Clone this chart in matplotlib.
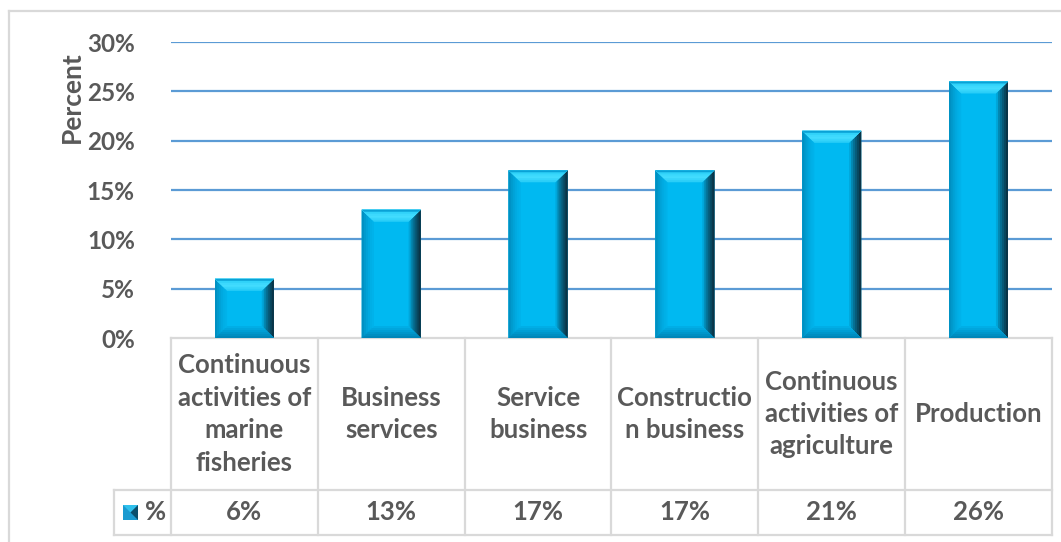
import matplotlib
matplotlib.use("Agg")
import matplotlib.pyplot as plt
from matplotlib.patches import Polygon, Rectangle
from matplotlib.lines import Line2D
from matplotlib.colors import to_rgb
import matplotlib.transforms as mtransforms

categories = [
    "Continuous\nactivities of\nmarine\nfisheries",
    "Business\nservices",
    "Service\nbusiness",
    "Constructio\nn business",
    "Continuous\nactivities of\nagriculture",
    "Production",
]
values = [0.06, 0.13, 0.17, 0.17, 0.21, 0.26]
value_labels = ["6%", "13%", "17%", "17%", "21%", "26%"]
yticks = [0.0, 0.05, 0.10, 0.15, 0.20, 0.25, 0.30]
series_name = "%"

TEXT = "#595959"
GRID = "#5B9BD5"
RULE = "#D9D9D9"
FACE = "#00B9F1"

plt.rcParams["font.family"] = ["Lato", "DejaVu Sans"]


def mix(a, b, t):
    a, b = to_rgb(a), to_rgb(b)
    return tuple(a[k] + (b[k] - a[k]) * t for k in range(3))


W, H = 1061, 542
fig = plt.figure(figsize=(W / 100, H / 100), dpi=100)
# plot area in pixels: x 171..1052, y(0%)=338, y(30%)=42
ax = fig.add_axes([171 / W, (H - 338) / H, (1052 - 171) / W, (338 - 42) / H])
ax.set_xlim(-0.5, len(values) - 0.5)
ax.set_ylim(0, 0.30)
for s in ax.spines.values():
    s.set_visible(False)
ax.set_xticks([])
ax.set_yticks(yticks)
ax.set_yticklabels([f"{t * 100:.0f}%" for t in yticks])
ax.tick_params(axis="y", length=0, pad=26, labelsize=17.5, labelcolor=TEXT)
for lab in ax.get_yticklabels():
    lab.set_fontweight("bold")
for t in yticks[1:]:
    ax.axhline(t, color=GRID, lw=1.6, zorder=1)

# pixel -> data scale for bevel sizes
px_x = len(values) / (1052 - 171)
px_y = 0.30 / (338 - 42)
bw = 0.4
bev = 12  # bevel width in px
steps = 6

for i, v in enumerate(values):
    x0, x1 = i - bw / 2, i + bw / 2
    ax.add_patch(Rectangle((x0, 0), bw, v, facecolor=FACE, edgecolor="none", zorder=2))
    for k in range(steps):
        d = bev * (1 - k / steps)
        dx, dy = d * px_x, d * px_y
        t = k / (steps - 1)
        # left bevel: slightly darker than the face
        ax.add_patch(Polygon([(x0, 0), (x0, v), (x0 + dx, v - dy), (x0 + dx, dy)],
                             closed=True, facecolor=mix("#00B2EA", "#0090C2", t ** 1.5),
                             edgecolor="none", zorder=3))
        # right bevel: dark gradient toward the edge
        ax.add_patch(Polygon([(x1, 0), (x1, v), (x1 - dx, v - dy), (x1 - dx, dy)],
                             closed=True, facecolor=mix("#00A6DA", "#0A3447", t ** 0.8),
                             edgecolor="none", zorder=3))
        # bottom bevel
        ax.add_patch(Polygon([(x0, 0), (x1, 0), (x1 - dx, dy), (x0 + dx, dy)],
                             closed=True, facecolor=mix("#00AEE6", "#0086B8", t),
                             edgecolor="none", zorder=4))
        # top bevel: bright cyan, darker at the outer edge
        ax.add_patch(Polygon([(x0, v), (x1, v), (x1 - dx, v - dy), (x0 + dx, v - dy)],
                             closed=True, facecolor=mix("#1FC8F5", "#45DEFF", 1 - abs(t - 0.45) * 1.6)
                             if k < steps - 1 else "#0AA2D6",
                             edgecolor="none", zorder=5))

ax.text(-0.5 - 99 * px_x, 0.30 - 9 * px_y, "Percent", rotation=90, ha="center", va="top",
        fontsize=19, fontweight="bold", color=TEXT)

# data table under the plot (x in data units, y in axes fraction)
tr = mtransforms.blended_transform_factory(ax.transData, ax.transAxes)
n = len(values)
y_top, y_mid, y_bot = 0.0, -(490 - 338) / 296, -(535 - 338) / 296
x_leg = -0.5 - (171 - 114) * px_x
lk = dict(color=RULE, lw=1.6, transform=tr, clip_on=False)
for i in range(n + 1):
    ax.add_line(Line2D([i - 0.5, i - 0.5], [y_top, y_bot], **lk))
ax.add_line(Line2D([-0.5, n - 0.5], [y_top, y_top], **lk))
ax.add_line(Line2D([x_leg, n - 0.5], [y_mid, y_mid], **lk))
ax.add_line(Line2D([x_leg, n - 0.5], [y_bot, y_bot], **lk))
ax.add_line(Line2D([x_leg, x_leg], [y_mid, y_bot], **lk))

for i, (c, vl) in enumerate(zip(categories, value_labels)):
    ax.text(i, (y_top + y_mid) / 2, c, transform=tr, ha="center", va="center",
            fontsize=18.5, fontweight="bold", color=TEXT, linespacing=1.42)
    ax.text(i, (y_mid + y_bot) / 2, vl, transform=tr, ha="center", va="center",
            fontsize=18.5, fontweight="bold", color=TEXT)

# legend key in the table
kx0 = x_leg + 9 * px_x
ky = (y_mid + y_bot) / 2
kw = 15 * px_x
kh = 15 / 296
ax.add_patch(Rectangle((kx0, ky - kh / 2), kw, kh, facecolor="#1A9AD0", edgecolor="none",
                       transform=tr, clip_on=False, zorder=3))
ax.add_patch(Polygon([(kx0, ky + kh / 2), (kx0 + kw, ky + kh / 2), (kx0 + kw * 0.5, ky)],
                     closed=True, facecolor="#2FC0EC", edgecolor="none", transform=tr,
                     clip_on=False, zorder=4))
ax.add_patch(Polygon([(kx0 + kw, ky - kh / 2), (kx0 + kw, ky + kh / 2), (kx0 + kw * 0.5, ky)],
                     closed=True, facecolor="#0B4F6C", edgecolor="none", transform=tr,
                     clip_on=False, zorder=4))
ax.text(kx0 + kw + 7 * px_x, ky, series_name, transform=tr, ha="left", va="center",
        fontsize=18.5, fontweight="bold", color=TEXT)

# outer chart border (top and left visible)
fig.add_artist(Line2D([9 / W, 1], [1 - 11 / H, 1 - 11 / H], color=RULE, lw=1.6,
                      transform=fig.transFigure))
fig.add_artist(Line2D([9 / W, 9 / W], [0, 1 - 11 / H], color=RULE, lw=1.6,
                      transform=fig.transFigure))

fig.savefig("out.png", dpi=100)
